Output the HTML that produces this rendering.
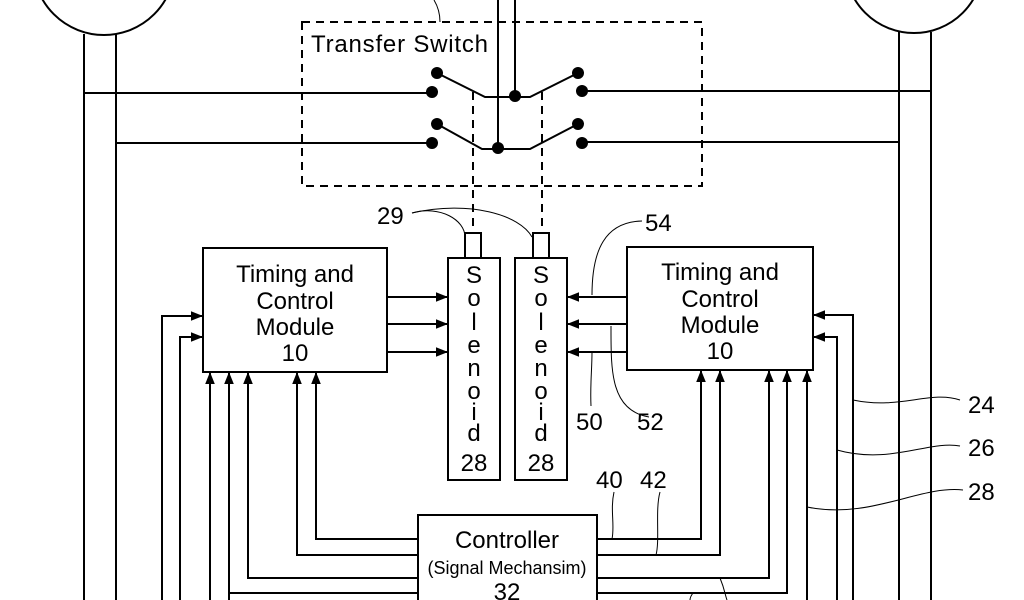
<!DOCTYPE html>
<html><head><meta charset="utf-8"><style>html,body{margin:0;padding:0;background:#fff}svg{display:block}</style></head>
<body>
<svg width="1024" height="600" viewBox="0 0 1024 600" xmlns="http://www.w3.org/2000/svg" font-family="Liberation Sans, sans-serif" fill="none" stroke="#000" stroke-width="2">
<defs><marker id="a" viewBox="0 0 10 10" refX="10" refY="5" markerWidth="6" markerHeight="6" orient="auto-start-reverse"><path d="M0,1 L10,5 L0,9 z" fill="#000" stroke="none"/></marker></defs>
<circle cx="104" cy="-36" r="71"/>
<circle cx="914" cy="-36" r="69"/>
<line x1="84" y1="34" x2="84" y2="600"/><line x1="116" y1="34" x2="116" y2="600"/>
<line x1="899" y1="32" x2="899" y2="600"/><line x1="931" y1="32" x2="931" y2="600"/>
<line x1="84" y1="93" x2="432" y2="93"/><line x1="116" y1="143" x2="432" y2="143"/>
<line x1="582" y1="91" x2="931" y2="91"/><line x1="582" y1="142" x2="899" y2="142"/>
<rect x="302" y="22" width="400" height="164" stroke-dasharray="8,6"/>
<text x="311" y="52" font-size="24" fill="#000" stroke="none" textLength="177">Transfer Switch</text>
<path d="M434,0 Q440,10 440,22" stroke-width="1"/>
<line x1="498" y1="0" x2="498" y2="148"/><line x1="515" y1="0" x2="515" y2="96"/>
<g fill="#000" stroke="none">
<circle cx="437" cy="73" r="6"/><circle cx="432" cy="92" r="6"/><circle cx="437" cy="124" r="6"/><circle cx="432" cy="143" r="6"/>
<circle cx="578" cy="73" r="6"/><circle cx="582" cy="91" r="6"/><circle cx="578" cy="124" r="6"/><circle cx="582" cy="143" r="6"/>
<circle cx="515" cy="96" r="6"/><circle cx="498" cy="148" r="6"/>
</g>
<polyline points="437,73 485,97 530,97 578,73"/>
<polyline points="437,124 482,149 530,149 578,124"/>
<line x1="473" y1="92" x2="473" y2="233" stroke-dasharray="8,6"/>
<line x1="542" y1="92" x2="542" y2="233" stroke-dasharray="8,6"/>
<rect x="465" y="233" width="16" height="25"/><rect x="533" y="233" width="16" height="25"/>
<rect x="448" y="258" width="52" height="222"/><rect x="515" y="258" width="52" height="222"/>
<g font-size="24" fill="#000" stroke="none" text-anchor="middle">
<text x="474" y="283">S</text><text x="474" y="306">o</text><text x="474" y="330">l</text><text x="474" y="353">e</text><text x="474" y="376">n</text><text x="474" y="399">o</text><text x="474" y="420">i</text><text x="474" y="441">d</text><text x="474" y="471">28</text>
<text x="541" y="283">S</text><text x="541" y="306">o</text><text x="541" y="330">l</text><text x="541" y="353">e</text><text x="541" y="376">n</text><text x="541" y="399">o</text><text x="541" y="420">i</text><text x="541" y="441">d</text><text x="541" y="471">28</text>
<text x="295" y="282">Timing and</text><text x="295" y="309">Control</text><text x="295" y="335">Module</text><text x="295" y="361">10</text>
<text x="720" y="280">Timing and</text><text x="720" y="307">Control</text><text x="720" y="333">Module</text><text x="720" y="359">10</text>
<text x="507" y="548">Controller</text><text x="507" y="574" font-size="18">(Signal Mechansim)</text><text x="507" y="600">32</text>
</g>
<g font-size="24" fill="#000" stroke="none">
<text x="377" y="224">29</text><text x="645" y="231">54</text><text x="576" y="430">50</text><text x="637" y="430">52</text>
<text x="596" y="488">40</text><text x="640" y="488">42</text>
<text x="968" y="413">24</text><text x="968" y="456">26</text><text x="968" y="500">28</text>
</g>
<g stroke-width="1">
<path d="M412,213 C440,205 465,220 465,237"/><path d="M412,213 C470,200 520,215 532,237"/>
<path d="M642,221 C605,222 592,250 592,295"/>
<path d="M591,406 C590,385 592,370 592,352"/><path d="M649,417 C610,410 611,370 611,326"/>
<path d="M614,492 C610,510 615,525 612,539"/><path d="M660,492 C655,510 660,540 656,555"/>
<path d="M960,400 C930,390 900,410 853,400"/><path d="M960,446 C930,440 890,465 837,450"/><path d="M963,490 C920,485 870,520 807,507"/>
<path d="M720,578 C725,590 725,595 727,600"/><path d="M693,593 C690,597 690,599 690,600"/>
</g>
<rect x="203" y="248" width="184" height="124"/>
<rect x="627" y="247" width="186" height="123"/>
<rect x="418" y="515" width="179" height="100"/>
<g marker-end="url(#a)">
<line x1="387" y1="297" x2="448" y2="297"/><line x1="387" y1="324" x2="448" y2="324"/><line x1="387" y1="352" x2="448" y2="352"/>
<line x1="627" y1="297" x2="567" y2="297"/><line x1="627" y1="324" x2="567" y2="324"/><line x1="627" y1="352" x2="567" y2="352"/>
<polyline points="162,600 162,316 203,316"/><polyline points="180,600 180,337 203,337"/>
<polyline points="853,600 853,315 813,315"/><polyline points="837,600 837,337 813,337"/>
<line x1="210" y1="600" x2="210" y2="372"/>
<polyline points="229,600 229,593 418,593" marker-end="none"/>
<line x1="229" y1="593" x2="229" y2="372"/>
<polyline points="418,578 248,578 248,372"/>
<polyline points="418,555 297,555 297,372"/>
<polyline points="418,539 316,539 316,372"/>
<polyline points="597,539 701,539 701,370"/>
<polyline points="597,555 720,555 720,370"/>
<polyline points="597,578 769,578 769,370"/>
<polyline points="597,593 787,593 787,370"/>
<line x1="807" y1="600" x2="807" y2="370"/>
</g>
</svg>
</body></html>
